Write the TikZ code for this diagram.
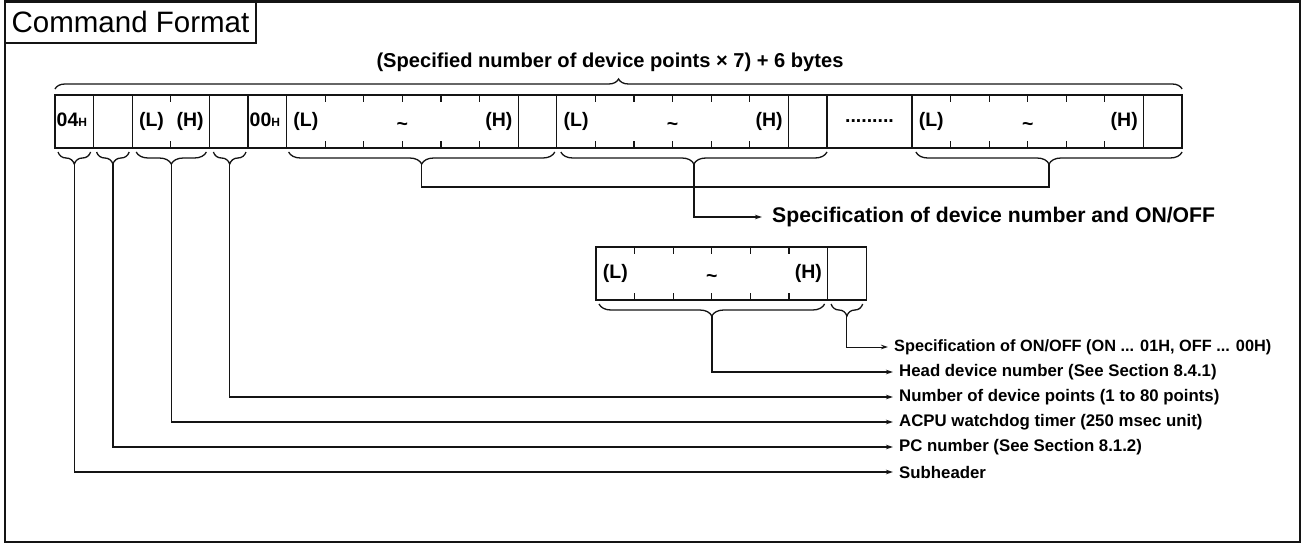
\documentclass[tikz,border=0pt]{standalone}
\usepackage{fontspec}
\setmainfont{Liberation Sans}
\usepackage{tikz}
\usetikzlibrary{arrows.meta, positioning, calc, decorations.pathreplacing}
\definecolor{inkblack}{RGB}{20,20,20}
\tikzset{
  outerframe/.style={draw=inkblack, line width=2.2pt},
  headbox/.style={rectangle, draw=inkblack, line width=2pt, minimum width=251pt,
    minimum height=41pt, inner sep=0pt, outer sep=0pt,
    font=\fontsize{29.5}{32}\selectfont},
  cellbox/.style={rectangle, draw=inkblack, line width=1.3pt, minimum width=#1*38.6pt,
    minimum height=53pt, inner sep=0pt, outer sep=0pt,
    font=\bfseries\fontsize{19.5}{22}\selectfont},
  cellbox/.default=1,
  celltext/.style={inner sep=0pt, text height=14.5pt, text depth=4pt,
    font=\bfseries\fontsize{19.5}{22}\selectfont},
  tickmark/.style={line width=1.1pt, color=inkblack},
  overbrace/.style={decorate, decoration={brace, amplitude=10pt}, line width=1.3pt, color=inkblack},
  underbrace/.style={decorate, decoration={brace, mirror, amplitude=12pt}, line width=1.3pt, color=inkblack},
  line/.style={line width=1.4pt, color=inkblack},
  arrow/.style={-{Stealth[length=7pt, width=4.5pt]}, line width=1.4pt, color=inkblack},
  bigtext/.style={font=\bfseries\fontsize{20.1}{24}\selectfont, inner sep=0pt},
  desctext/.style={anchor=west, inner sep=0pt, inner xsep=6pt,
    font=\bfseries\fontsize{16.8}{20}\selectfont}
}

\begin{document}
\begin{tikzpicture}[x=1pt, y=-1pt]
  \useasboundingbox (0,0) rectangle (1302,544);

  % Frame and heading
  \draw[outerframe] (5,1.5) rectangle (1300,542);
  \node[headbox, anchor=north west] (head) at (5,1.5) {Command Format};

  % Total length of the command
  \node[bigtext] (total) at (610,62) {(Specified number of device points × 7) + 6 bytes};

  % Byte row
  \node[cellbox] (sub) at (74.3,121.5) {};
  \node[cellbox] (pcno) [right=0pt of sub] {};
  \node[cellbox=2] (wdog) [right=0pt of pcno] {};
  \node[cellbox] (npts) [right=0pt of wdog] {};
  \node[cellbox] (zero) [right=0pt of npts] {};
  \node[cellbox=6] (dev1) [right=0pt of zero] {};
  \node[cellbox] (onoff1) [right=0pt of dev1] {};
  \node[cellbox=6] (dev2) [right=0pt of onoff1] {};
  \node[cellbox] (onoff2) [right=0pt of dev2] {};
  \node[cellbox=2.2] (more) [right=0pt of onoff2] {.........};
  \node[cellbox=6] (dev3) [right=0pt of more] {};
  \node[cellbox] (onoff3) [right=0pt of dev3] {};
  \draw[overbrace] ($(sub.north west)+(0,-6)$) -- ($(onoff3.north east)+(0,-6)$);

  \node[celltext, anchor=west] (sub-t) at ($(sub.west)+(1.5,0)$) {04\fontsize{12}{12}\selectfont H};
  \node[celltext, anchor=west] (zero-t) at ($(zero.west)+(1.5,0)$) {00\fontsize{12}{12}\selectfont H};
  \node[celltext] (wdog-lo) at ($(wdog.west)+(19.3,0)$) {(L)};
  \node[celltext] (wdog-hi) at ($(wdog.east)+(-19.3,0)$) {(H)};
  \draw[tickmark] (wdog.north) -- ++(0,7);
  \draw[tickmark] (wdog.south) -- ++(0,-7);

  % One device point, enlarged
  \node[cellbox=6] (sdev) at (711.8,273.5) {};
  \node[cellbox] (soo) [right=0pt of sdev] {};

  \foreach \g in {dev1,dev2,dev3,sdev} {
    \node[celltext] (\g-lo) at ($(\g.west)+(19.3,0)$) {(L)};
    \node[celltext, yshift=-4pt] (\g-mid) at (\g.center) {\textasciitilde};
    \node[celltext] (\g-hi) at ($(\g.east)+(-19.3,0)$) {(H)};
    \foreach \k in {1,...,5} {
      \draw[tickmark] ($(\g.north west)+(\k*38.6,0)$) -- ++(0,7);
      \draw[tickmark] ($(\g.south west)+(\k*38.6,0)$) -- ++(0,-7);
    }
  }

  % Braces under the bytes
  \draw[underbrace] ($(sub.south west)+(3,4)$) -- ($(sub.south east)+(-3,4)$);
  \draw[underbrace] ($(pcno.south west)+(3,4)$) -- ($(pcno.south east)+(-3,4)$);
  \draw[underbrace] ($(wdog.south west)+(4,4)$) -- ($(wdog.south east)+(-3,4)$);
  \draw[underbrace] ($(npts.south west)+(4,4)$) -- ($(npts.south east)+(-2,4)$);
  \draw[underbrace] ($(dev1.south west)+(2,4)$) -- ($(onoff1.south east)+(-2,4)$);
  \draw[underbrace] ($(dev2.south west)+(4,4)$) -- ($(onoff2.south east)+(0,4)$);
  \draw[underbrace] ($(dev3.south west)+(4,4)$) -- ($(onoff3.south east)+(0,4)$);
  \draw[underbrace] ($(sdev.south west)+(3,4)$) -- ($(sdev.south east)+(-3,4)$);
  \draw[underbrace] ($(soo.south west)+(3.5,4)$) -- ($(soo.south east)+(-3.5,4)$);

  \path ($(sub.south)+(0,16)$) coordinate (subtip);
  \path ($(pcno.south)+(0,16)$) coordinate (pcnotip);
  \path ($(wdog.south)+(0.5,16)$) coordinate (wdogtip);
  \path ($(npts.south)+(1,16)$) coordinate (nptstip);
  \path ($(dev1.south west)!.5!(onoff1.south east)$) ++(0,16) coordinate (dev1tip);
  \path ($(dev2.south west)!.5!(onoff2.south east)$) ++(2,16) coordinate (dev2tip);
  \path ($(dev3.south west)!.5!(onoff3.south east)$) ++(2,16) coordinate (dev3tip);
  \path ($(sdev.south)+(0,16)$) coordinate (sdevtip);
  \path ($(soo.south)+(0,16)$) coordinate (sootip);
  \coordinate (devjoin) at (dev2tip |- 0,187);

  % Descriptions
  \node[bigtext, anchor=west, inner xsep=10pt, font=\bfseries\fontsize{21.2}{24}\selectfont] (devlbl) at (762,217) {Specification of device number and ON/OFF};
  \node[desctext, font=\bfseries\fontsize{16.3}{20}\selectfont] (onofflbl) at (888,347) {Specification of ON/OFF (ON ... 01H, OFF ... 00H)};
  \node[desctext] (headlbl) at (893,372) {Head device number (See Section 8.4.1)};
  \node[desctext] (nptslbl) at (893,397) {Number of device points (1 to 80 points)};
  \node[desctext] (wdoglbl) at (893,422) {ACPU watchdog timer (250 msec unit)};
  \node[desctext] (pclbl) at (893,447) {PC number (See Section 8.1.2)};
  \node[desctext] (sublbl) at (893,472) {Subheader};

  % Connectors
  \draw[line] (dev1tip) |- (devjoin) -| (dev3tip);
  \draw[arrow] (dev2tip) |- (devlbl.west);
  \draw[arrow, line width=1pt] (sootip) |- (onofflbl.west);
  \draw[arrow] (sdevtip) |- (headlbl.west);
  \draw[arrow] (nptstip) |- (nptslbl.west);
  \draw[arrow] (wdogtip) |- (wdoglbl.west);
  \draw[arrow] (pcnotip) |- (pclbl.west);
  \draw[arrow] (subtip) |- (sublbl.west);
\end{tikzpicture}
\end{document}
